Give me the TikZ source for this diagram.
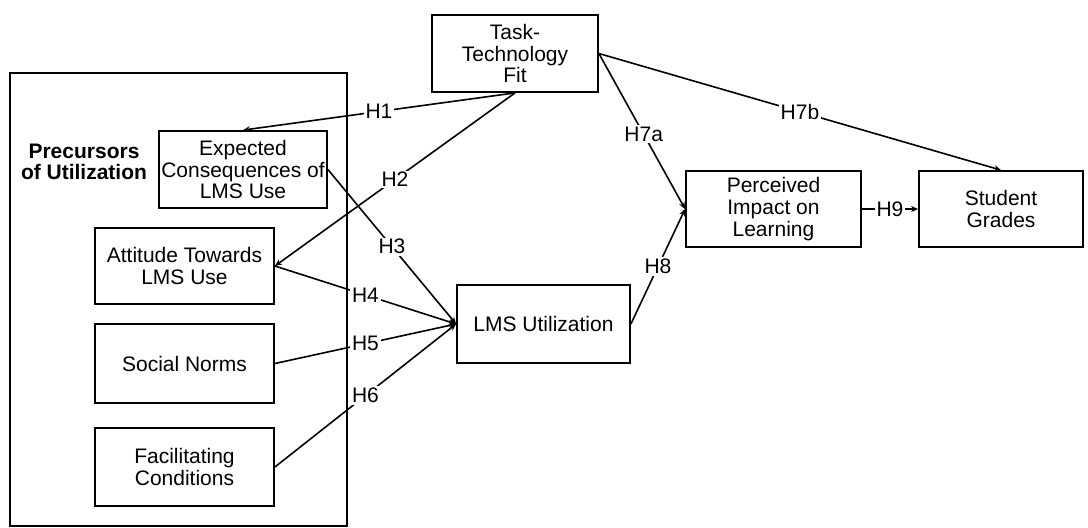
\documentclass[tikz,border=0pt]{standalone}
\usepackage{fontspec}
\setmainfont{Liberation Sans}
\usetikzlibrary{arrows.meta}
\begin{document}
\begin{tikzpicture}[x=0.5pt,y=-0.5pt,
    box/.style={draw,line width=0.9pt,align=center,inner sep=0pt,
      font=\fontsize{10.5}{10.8}\selectfont},
    hyp/.style={fill=white,inner sep=0.8pt,font=\fontsize{10.5}{10.8}\selectfont}]
  \useasboundingbox (0,0) rectangle (1088,527);
  \draw[line width=0.9pt] (10,73) rectangle (347,526);
  \draw
    (84,162) node[align=center,font=\bfseries\fontsize{10.5}{10.8}\selectfont] (prec){Precursors\\of Utilization}
    (515,53.5) node[box,minimum width=83pt,minimum height=38.5pt] (ttf){Task-\\Technology\\Fit}
    (243,169.5) node[box,minimum width=84pt,minimum height=38.5pt] (ecu){Expected\\Consequences of\\LMS Use}
    (184.5,266) node[box,minimum width=89.5pt,minimum height=38pt] (att){Attitude Towards\\LMS Use}
    (184.5,363.5) node[box,minimum width=89.5pt,minimum height=39.5pt] (sn){Social Norms}
    (184.5,467) node[box,minimum width=89.5pt,minimum height=39pt] (fc){Facilitating\\Conditions}
    (543.5,324) node[box,minimum width=86.5pt,minimum height=39pt] (lms){LMS Utilization}
    (773.5,209) node[box,minimum width=87.5pt,minimum height=38pt] (pil){Perceived\\Impact on\\Learning}
    (1001,209) node[box,minimum width=82pt,minimum height=38pt] (sg){Student\\Grades};
  \begin{scope}[line width=0.8pt,-{Stealth[length=3.5pt,width=3pt]}]
    \draw (ttf.south) to node[hyp]{H1} (ecu.north);
    \draw (ttf.south) to node[hyp]{H2} (att.east);
    \draw (ecu.east) to node[hyp]{H3} (lms.west);
    \draw (att.east) to node[hyp]{H4} (lms.west);
    \draw (sn.east) to node[hyp]{H5} (lms.west);
    \draw (fc.east) to node[hyp]{H6} (lms.west);
    \draw (ttf.east) to node[hyp,pos=0.52]{H7a} (pil.west);
    \draw (ttf.east) to node[hyp]{H7b} (sg.north);
    \draw (lms.east) to node[hyp]{H8} (pil.west);
    \draw (pil.east) to node[hyp]{H9} (sg.west);
  \end{scope}
\end{tikzpicture}
\end{document}
